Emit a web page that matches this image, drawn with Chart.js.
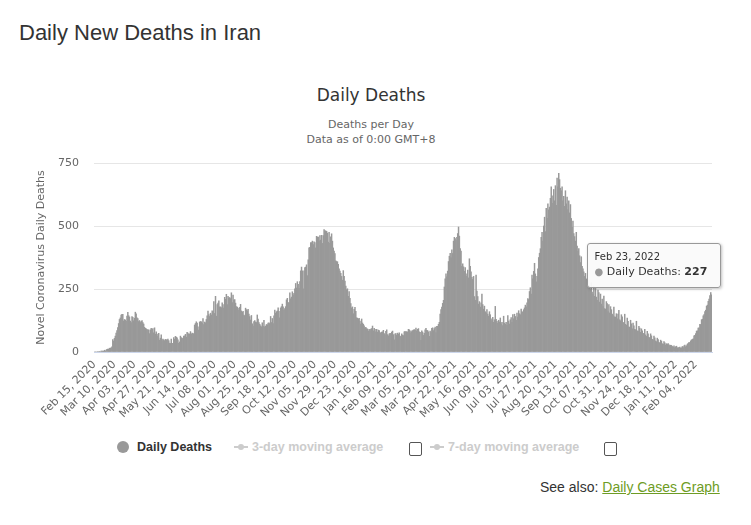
<!DOCTYPE html>
<html>
<head>
<meta charset="utf-8">
<script src="https://cdn.jsdelivr.net/npm/chart.js@4.4.1/dist/chart.umd.min.js"></script>
<style>
  html, body { margin: 0; padding: 0; background: #fff; }
  body { width: 751px; height: 525px; position: relative; overflow: hidden; font-family: "DejaVu Sans", sans-serif; }
  .abs { position: absolute; white-space: nowrap; }
  #pageTitle { left: 19px; top: 20px; font: 22px "Liberation Sans", Arial, sans-serif; color: #333; }
  #chartTitle { left: 0; width: 742px; top: 85px; text-align: center; font-size: 17px; color: #333; }
  .sub { left: 0; width: 742px; text-align: center; font-size: 11px; color: #666; }
  #chartBox { position: absolute; left: 0; top: 150px; width: 751px; height: 290px; }
  #tip { position: absolute; background: rgba(250,250,250,0.95); border: 1px solid #999; border-radius: 3px;
         box-shadow: 1px 1px 3px rgba(0,0,0,0.25); padding: 7px 13px 9px 7px; color: #333; opacity: 0; pointer-events: none; }
  #tip .d { font-size: 10px; margin-bottom: 3px; }
  #tip .b { font-size: 11px; }
  #tip .dot { color: #999; font-size: 10px; }
  .leg { font: bold 12.5px "Liberation Sans", Arial, sans-serif; top: 440px; line-height: 14px; }
  .box { width: 11px; height: 12px; border: 1.5px solid #555; border-radius: 2px; top: 442px; background: #fff; }
  .ln { height: 2px; width: 14px; background: #ccc; top: 446px; }
  .mk { width: 6px; height: 6px; border-radius: 50%; background: #ccc; top: 444px; }
  #seeAlso { left: 540px; top: 479px; font: 14px "Liberation Sans", Arial, sans-serif; color: #333; }
  #seeAlso a { color: #6e9c24; text-decoration: underline; }
</style>
</head>
<body>
<div id="pageTitle" class="abs">Daily New Deaths in Iran</div>
<div id="chartTitle" class="abs">Daily Deaths</div>
<div class="abs sub" style="top:118px">Deaths per Day</div>
<div class="abs sub" style="top:133px">Data as of 0:00 GMT+8</div>

<div id="chartBox"><canvas id="chart"></canvas><div id="tip"></div></div>

<!-- legend -->
<div class="abs" style="left:117px;top:441px;width:12px;height:12px;border-radius:50%;background:#999"></div>
<div class="abs leg" style="left:137px;color:#333">Daily Deaths</div>
<div class="abs ln" style="left:234px"></div><div class="abs mk" style="left:238px"></div>
<div class="abs leg" style="left:252px;color:#ccc">3-day moving average</div>
<div class="abs box" style="left:409px"></div>
<div class="abs ln" style="left:430px"></div><div class="abs mk" style="left:434px"></div>
<div class="abs leg" style="left:448px;color:#ccc">7-day moving average</div>
<div class="abs box" style="left:604px"></div>

<div id="seeAlso" class="abs">See also: <a href="#">Daily Cases Graph</a></div>

<script>
// daily deaths, Feb 15 2020 onwards (one value per day)
const deaths2020 = [
  0,0,0,0,2,0,2,0,4,4,4,3,7,3,8,                                        // Feb 15-29
  11,12,11,15,15,17,21,49,43,54,63,75,85,97,113,129,135,147,149,149,123,129,127,122,143,157,144,139,123,117,141, // Mar
  138,124,134,158,151,136,133,121,125,117,122,125,117,111,98,94,92,88,89,87,73,88,94,90,93,76,96,71,80,71,        // Apr
  63,74,47,55,68,45,51,48,45,50,48,48,51,45,35,34,51,34,34,57,50,62,59,56,48,34,40,63,57,53,55,                   // May
  63,64,70,59,78,75,70,72,81,71,75,74,71,107,113,120,115,100,87,119,121,120,115,133,109,119,116,129,144,162,       // Jun
  148,141,154,147,163,160,200,153,221,142,188,194,203,179,179,176,195,188,174,217,209,229,188,221,215,216,212,235,196,226,206, // Jul
  208,194,180,178,174,166,177,189,163,157,161,147,144,174,168,163,169,150,141,127,145,112,103,121,125,119,117,147,131,117,110, // Aug
  104,100,116,102,126,100,103,109,108,115,116,113,141,117,133,113,144,166,154,160,163,175,161,136,175,180,190,179,165,172,     // Sep
  180,207,213,196,195,235,211,218,239,227,233,251,272,254,279,269,253,279,322,337,322,251,322,335,337,346,303,366,413,415,434, // Oct
  434,440,426,437,434,413,459,456,456,441,462,444,463,431,462,486,482,480,479,472,436,475,431,457,469,440,413,400,391,362,     // Nov
  359,358,348,330,321,312,300,285,323,300,281,262,247,251,221,240,213,192,175,179,152,169,177,161,136,134,131,134,123,111,131  // Dec
];
const deaths2021 = [
  115,110,104,95,98,93,91,83,90,85,91,93,103,84,94,90,80,90,79,87,85,76,76,79,80,86,73,68,82,88,69,               // Jan
  64,72,74,73,79,83,69,48,72,73,66,75,70,76,63,61,72,67,65,80,82,78,81,79,90,88,76,84,                            // Feb
  80,85,87,89,86,95,84,90,93,80,78,46,84,79,66,74,88,94,86,85,80,62,83,77,94,96,85,93,99,77,102,                  // Mar
  102,110,118,150,168,178,193,205,258,290,310,298,321,359,380,392,375,405,391,440,455,450,442,455,470,496,460,410,400,340, // Apr
  350,338,320,335,310,300,325,294,370,340,318,296,288,300,220,205,305,242,220,190,200,178,195,230,188,170,182,160,155,168,150, // May
  142,160,148,132,125,138,118,128,181,130,122,115,126,119,135,112,118,105,142,115,110,118,106,145,123,111,128,137,118,148,     // Jun
  132,150,141,126,154,139,164,152,148,170,160,157,168,175,186,179,195,212,208,240,255,230,305,290,320,352,310,278,300,330,375, // Jul
  392,410,455,475,440,500,535,478,570,530,588,564,575,610,655,620,590,645,600,660,582,690,655,709,684,650,640,655,600,618,578, // Aug
  640,588,615,565,600,552,585,530,495,520,470,458,440,475,420,400,410,382,355,378,340,330,318,300,312,290,276,285,265,258,     // Sep
  250,275,238,230,262,221,252,218,205,246,236,198,230,190,210,180,222,172,170,200,192,160,188,155,180,168,150,145,178,140,138, // Oct
  152,132,150,165,128,124,148,140,118,115,150,110,106,135,122,100,98,126,112,92,115,104,90,88,122,84,82,102,95,78,             // Nov
  92,84,74,72,90,68,62,82,72,58,56,72,64,50,48,63,56,44,41,55,49,38,35,47,43,33,30,41,36,28,33                    // Dec
];
const deaths2022 = [
  30,33,28,25,27,26,22,20,24,18,21,23,17,16,19,20,15,17,22,18,24,27,21,25,31,34,38,36,44,48,50,                   // Jan
  52,64,66,73,83,84,95,96,110,109,128,130,144,148,160,166,182,186,201,210,224,236,227                             // Feb 1-23
];

const tickLabels = [
  'Feb 15, 2020','Mar 10, 2020','Apr 03, 2020','Apr 27, 2020','May 21, 2020','Jun 14, 2020','Jul 08, 2020',
  'Aug 01, 2020','Aug 25, 2020','Sep 18, 2020','Oct 12, 2020','Nov 05, 2020','Nov 29, 2020','Dec 23, 2020',
  'Jan 16, 2021','Feb 09, 2021','Mar 05, 2021','Mar 29, 2021','Apr 22, 2021','May 16, 2021','Jun 09, 2021',
  'Jul 03, 2021','Jul 27, 2021','Aug 20, 2021','Sep 13, 2021','Oct 07, 2021','Oct 31, 2021','Nov 24, 2021',
  'Dec 18, 2021','Jan 11, 2022','Feb 04, 2022'
];
const monthNames = ['Jan','Feb','Mar','Apr','May','Jun','Jul','Aug','Sep','Oct','Nov','Dec'];

const deaths = deaths2020.concat(deaths2021, deaths2022);

// one category per day
const labels = [];
for (let i = 0; i < deaths.length; i++) {
  const d = new Date(Date.UTC(2020, 1, 15 + i));
  const day = String(d.getUTCDate()).padStart(2, '0');
  labels.push(monthNames[d.getUTCMonth()] + ' ' + day + ', ' + d.getUTCFullYear());
}

const tipEl = document.getElementById('tip');

const chart = new Chart(document.getElementById('chart'), {
  type: 'bar',
  data: {
    labels: labels,
    datasets: [{
      label: 'Daily Deaths',
      data: deaths,
      backgroundColor: '#999999',
      borderWidth: 0,
      barPercentage: 1,
      categoryPercentage: 1
    }]
  },
  options: {
    responsive: true,
    maintainAspectRatio: false,
    animation: false,
    events: [],
    layout: { padding: { left: 30, right: 39, top: 13, bottom: 0 } },
    plugins: {
      legend: { display: false },
      title: { display: false },
      tooltip: {
        enabled: false,
        external: (ctx) => {
          const tt = ctx.tooltip;
          if (tt.opacity === 0 || !tt.dataPoints || !tt.dataPoints.length) { tipEl.style.opacity = 0; return; }
          const dp = tt.dataPoints[0];
          tipEl.innerHTML = '<div class="d">' + dp.label + '</div>' +
            '<div class="b"><span class="dot">\u25CF</span> Daily Deaths: <b>' + dp.formattedValue + '</b></div>';
          tipEl.style.left = (tt.caretX - 125) + 'px';
          tipEl.style.top = (tt.caretY - 52) + 'px';
          tipEl.style.opacity = 1;
        }
      }
    },
    scales: {
      x: {
        grid: { display: false, drawTicks: false },
        border: { display: true, color: '#ccd6eb', width: 1 },
        afterFit: (s) => { s.height = 88; },
        ticks: {
          autoSkip: false,
          minRotation: 45,
          maxRotation: 45,
          padding: 6,
          color: '#666',
          font: { family: 'DejaVu Sans', size: 11 },
          callback: (v, i) => (i % 24 === 0 ? tickLabels[i / 24] : null)
        }
      },
      y: {
        min: 0,
        max: 750,
        // fixed width; the tick padding should not push the plot top down
        afterFit: (s) => { s.width = 64; s.paddingTop = 0; s.paddingBottom = 0; },
        grid: { color: '#e6e6e6', drawTicks: false },
        border: { display: false },
        ticks: {
          stepSize: 250,
          padding: 15,
          color: '#666',
          font: { family: 'DejaVu Sans', size: 11 }
        },
        title: {
          display: true,
          text: 'Novel Coronavirus Daily Deaths',
          color: '#666',
          font: { family: 'DejaVu Sans', size: 11 },
          padding: { top: 5, bottom: 0 }
        }
      }
    }
  }
});

// show the tooltip on the latest day, like the reference
chart.tooltip.setActiveElements([{ datasetIndex: 0, index: deaths.length - 1 }], { x: 0, y: 0 });
chart.update();
</script>
</body>
</html>
